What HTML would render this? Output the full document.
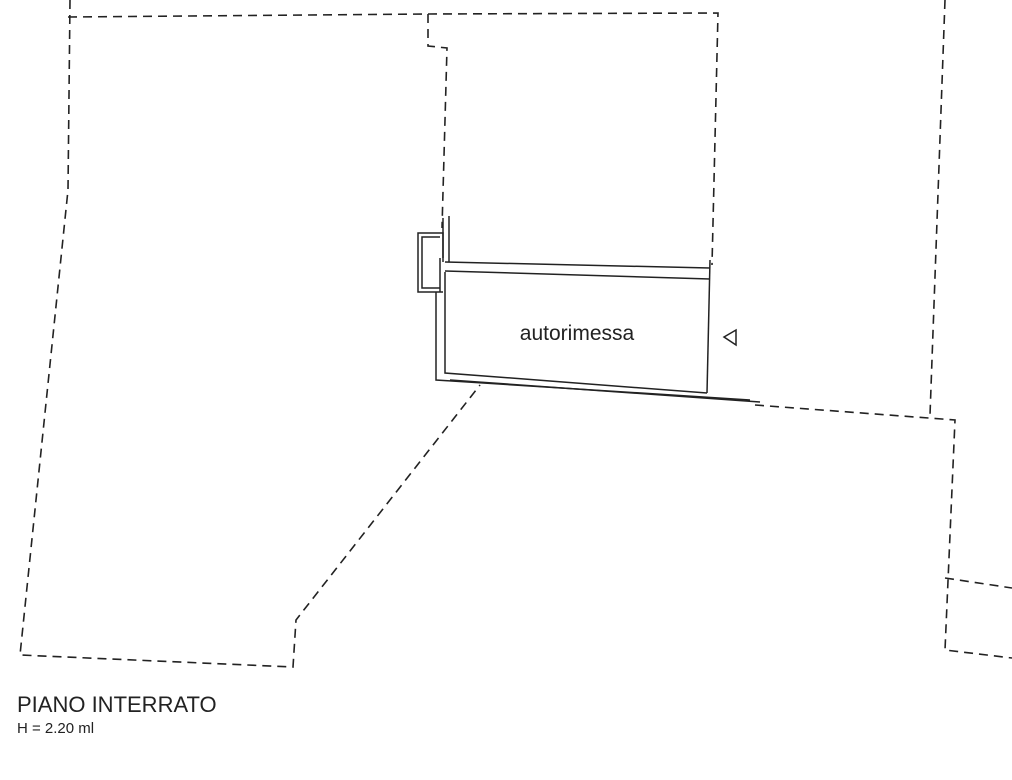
<!DOCTYPE html>
<html><head><style>body{margin:0;background:#fff}svg{display:block}</style></head><body>
<svg width="1012" height="780" viewBox="0 0 1012 780" xmlns="http://www.w3.org/2000/svg">
<g fill="none" stroke="#222" stroke-width="1.6" stroke-dasharray="9,6">
<polyline points="70,0 68,190 20,655 293,667 296,620 480,385"/>
<polyline points="68,17 428,14 718,13 712,265"/>
<polyline points="428,14 428,46 447,48 442,228"/>
<polyline points="945,0 930,415"/>
<polyline points="755,405 955,420 945,650 1012,658"/>
<polyline points="945,578 1012,588"/>
</g>
<g fill="none" stroke="#222" stroke-width="1.5">
<line x1="445" y1="262" x2="710" y2="268"/>
<line x1="445" y1="271" x2="710" y2="279"/>
<line x1="710" y1="260" x2="707" y2="393"/>
<polyline points="449,216 449,262"/>
<polyline points="443,218 443,262"/>
<polyline points="436,292 436,380 750,400"/>
<polyline points="445,272 445,373 707,393"/>
<polyline points="443,258 443,233 418,233 418,292 443,292"/>
<polyline points="440,237 422,237 422,288 440,288"/>
<line x1="440" y1="258" x2="440" y2="292"/>
<line x1="450" y1="380" x2="760" y2="402"/>
<polygon points="724,337 736,330 736,345"/>
</g>
<text x="577" y="340" text-anchor="middle" font-family="Liberation Sans, sans-serif" font-size="21" fill="#222">autorimessa</text>
<text x="17" y="712" font-family="Liberation Sans, sans-serif" font-size="22" fill="#222">PIANO INTERRATO</text>
<text x="17" y="733" font-family="Liberation Sans, sans-serif" font-size="15" fill="#222">H = 2.20 ml</text>
</svg>
</body></html>
